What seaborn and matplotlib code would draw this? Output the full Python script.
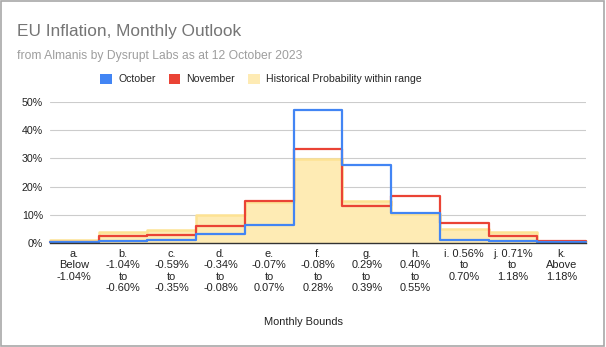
import numpy as np
import pandas as pd
import matplotlib
matplotlib.use("Agg")
import matplotlib.pyplot as plt
import seaborn as sns
from matplotlib.patches import Rectangle

categories = [
    "a.\nBelow\n-1.04%",
    "b.\n-1.04%\nto\n-0.60%",
    "c.\n-0.59%\nto\n-0.35%",
    "d.\n-0.34%\nto\n-0.08%",
    "e.\n-0.07%\nto\n0.07%",
    "f.\n-0.08%\nto\n0.28%",
    "g.\n0.29%\nto\n0.39%",
    "h.\n0.40%\nto\n0.55%",
    "i. 0.56%\nto\n0.70%",
    "j. 0.71%\nto\n1.18%",
    "k.\nAbove\n1.18%",
]
october = [0.3, 0.8, 1.2, 3.3, 6.5, 47.3, 27.7, 10.5, 1.1, 0.7, 0.3]
november = [0.5, 2.4, 2.9, 5.9, 14.8, 33.4, 13.3, 16.5, 7.0, 2.4, 0.6]
historical = [0.9, 3.9, 4.7, 9.8, 14.7, 29.9, 15.0, 10.3, 5.0, 3.8, 0.7]
yticks = [0, 10, 20, 30, 40, 50]

BLUE = "#4285f4"
RED = "#ea4335"
YFILL = "#feebb4"
YLINE = "#fde293"

sns.set_theme(style="white")
plt.rcParams["font.family"] = ["Liberation Sans", "DejaVu Sans"]

n = len(categories)
idx = np.arange(n)
edges = np.arange(n + 1) - 0.5


def step_vals(v):
    return list(v) + [v[-1]]


df = pd.DataFrame({
    "edge": edges,
    "oct": step_vals(october),
    "nov": step_vals(november),
    "hist": step_vals(historical),
})

fig = plt.figure(figsize=(6.06, 3.47), dpi=100)
ax = fig.add_axes([0.0825, 0.2997, 0.8845, 0.4063])

ax.fill_between(df["edge"], 0, df["hist"], step="post", color=YFILL, linewidth=0, zorder=2)
sns.lineplot(data=df, x="edge", y="hist", drawstyle="steps-post", color=YLINE,
             linewidth=1.8, estimator=None, ax=ax, zorder=2.5)
sns.lineplot(data=df, x="edge", y="nov", drawstyle="steps-post", color=RED,
             linewidth=1.6, estimator=None, ax=ax, zorder=3)
sns.lineplot(data=df, x="edge", y="oct", drawstyle="steps-post", color=BLUE,
             linewidth=1.6, estimator=None, ax=ax, zorder=4)

ax.set_xlim(edges[0], edges[-1])
ax.set_ylim(0, 50)
ax.set_yticks(yticks)
ax.set_yticklabels([f"{v}%" for v in yticks], fontsize=7.7, color="#222222")
ax.set_xticks(idx)
ax.set_xticklabels(categories, fontsize=7.9, color="#222222", linespacing=1.2, va="top")
ax.tick_params(axis="both", length=0, pad=5)
ax.tick_params(axis="x", pad=4)
ax.grid(axis="y", color="#cccccc", linewidth=0.8, zorder=0)
ax.set_axisbelow(True)
for s in ["top", "right", "left"]:
    ax.spines[s].set_visible(False)
ax.spines["bottom"].set_color("#333333")
ax.spines["bottom"].set_linewidth(1.0)
ax.spines["bottom"].set_zorder(5)
ax.set_xlabel("")
ax.set_ylabel("")
for line in ax.lines:
    line.set_solid_joinstyle("round")
    line.set_clip_on(False)

fig.text(0.5, 1 - 322 / 347, "Monthly Bounds", ha="center", va="center", fontsize=7.9, color="#222222")

fig.text(17 / 606, 1 - 36 / 347, "EU Inflation, Monthly Outlook", ha="left", va="baseline",
         fontsize=12.4, color="#757575")
fig.text(17 / 606, 1 - 59 / 347, "from Almanis by Dysrupt Labs as at 12 October 2023",
         ha="left", va="baseline", fontsize=8.7, color="#9e9e9e")

handles = [Rectangle((0, 0), 1, 1, facecolor=c, edgecolor="none") for c in (BLUE, RED, YFILL)]
fig.legend(handles, ["October", "November", "Historical Probability within range"],
           loc="center", bbox_to_anchor=(261 / 606, 1 - 79 / 347), ncol=3, frameon=False,
           fontsize=7.6, handlelength=1.1, handleheight=1.1, handletextpad=0.6,
           columnspacing=1.2)

fig.patches.append(Rectangle((0.002, 0.003), 0.995, 0.994, transform=fig.transFigure,
                             fill=False, edgecolor="#a8a8a8", linewidth=1.2))

fig.savefig("out.png", dpi=100)
